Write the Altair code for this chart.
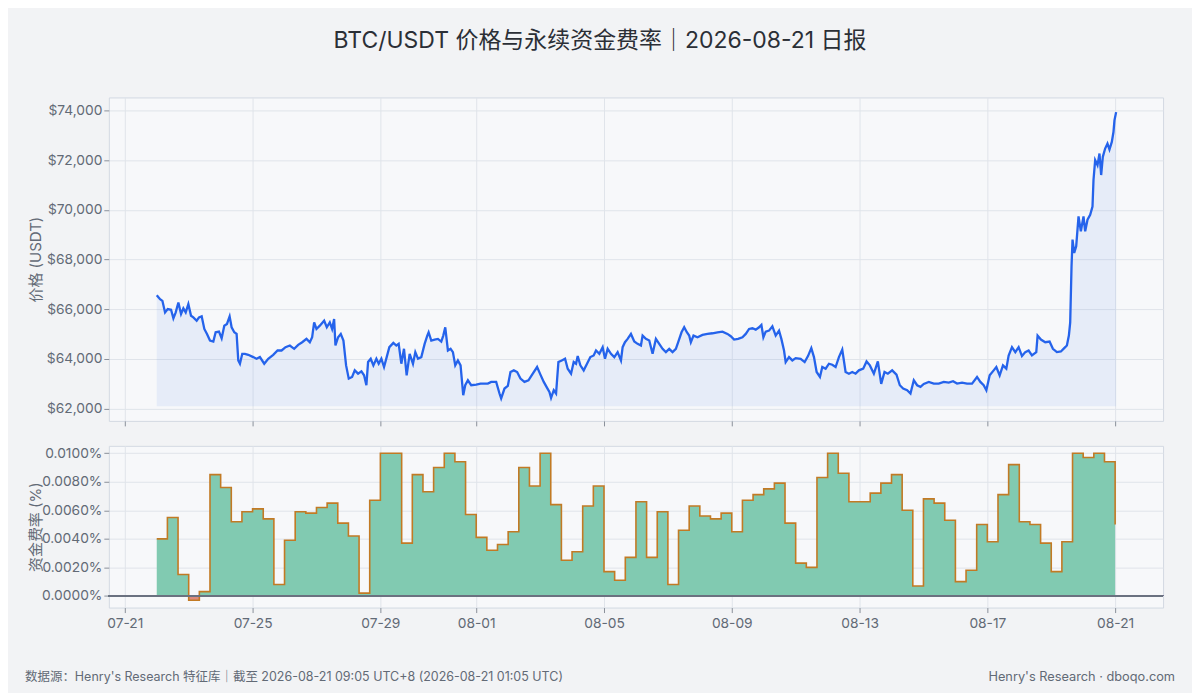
import pandas as pd
import altair as alt

# ---- values ----
start_utc = "2026-07-22T00:00:00Z"

# hours after start_utc, and BTC/USDT price at that time
price_hours = [
    0, 2.5, 4.25, 6.25, 8.25, 10.75, 12.5, 14.25, 16.25, 18.25, 20, 21.75, 23.75, 25.75,
    27.5, 30, 31.75, 33.75, 35.75, 37.75, 40, 42.5, 44.25, 46.75, 48.75, 50.75, 52.75,
    54.75, 56.25, 58.25, 60, 61.25, 62.5, 64.25, 66.25, 68.75, 72.5, 75, 77.5, 80.75,
    83.75, 87.5, 90.75, 93.75, 96.75, 100, 103.25, 106.25, 109.25, 112.5, 115, 116.75,
    118.25, 120, 122.5, 125.75, 127.75, 130, 131.75, 133.25, 134.25, 136.25, 138.25,
    140.25, 142.25, 144.25, 146.75, 148.75, 151.25, 153.75, 155.75, 157.5, 158.75,
    160.75, 162.75, 165, 166.75, 168.75, 170.75, 172.75, 174.75, 177.75, 180, 181.75,
    183.75, 185.75, 187.75, 190, 192.5, 194.25, 196.25, 198.75, 201.25, 203.25, 204.25,
    206.25, 208.75, 211.25, 213.75, 215.25, 216.75, 218.75, 220.75, 222.5, 224.25,
    226.25, 228.25, 230.25, 231.75, 233.75, 236.25, 240, 243.25,
    245, 248.75, 251.25, 255, 257.5, 258.75, 261.25, 263.75, 265.75, 268.25, 270.75,
    273.25, 276.25, 279.25, 282.5, 285.75, 288.25, 290.75, 293.25, 295, 296.25, 298.25,
    300, 301.75, 304.25, 306.75, 308.75, 311.25, 313.25, 315, 316.25, 318.25, 320.75,
    323.25, 325.75, 328.25, 330, 332.5, 335, 336.75, 338.75, 341.25, 343.75, 346.25,
    348.75, 350, 351.75, 353.75, 356.25, 358.75, 361.25, 363.75, 365, 367.5, 370,
    372.5, 375, 377.5, 380, 382.5, 385, 387.5, 390, 391.75, 394.25, 396.25, 398.25,
    400, 401.25, 403.25, 406.25, 410, 413.75, 417.5, 421.25, 425, 428.75, 431.25,
    433.75, 436.75, 440, 442.5, 445, 447.5, 450, 452.5, 454.25, 455.75, 457.5, 460,
    462.5, 465, 467.5, 469.25, 471.25, 472.5, 475, 477.5, 480,
    483.75, 486.75, 489.25, 491.75, 493.75, 495.75, 498.25, 500, 502.5, 505, 507.5,
    510, 512.5, 515, 517.5, 520, 522.5, 525, 527.5, 530.75, 533.25, 535.75, 538.75,
    541.75, 544.25, 546.75, 549.25, 552.5, 555.75, 558.25, 560.75, 563.75, 566.25,
    568.75, 571.25, 573.75, 576.25, 580, 583.75, 587.5, 591.25, 595, 598.25, 601.25,
    605, 608.75, 612.5, 616.25, 618.75, 621.25, 623.25, 625.75, 628.75, 630.75,
    633.25, 635.75, 638.25, 640, 642.5, 645, 647.5, 650, 652.5, 655, 657.5, 660.75,
    661.75, 664.25, 667.5, 670.75, 673.25, 676.25, 679.25, 681.75, 683.75, 685.25,
    686.25, 687.25, 688, 689.25, 690.75, 692.5, 694.25, 696.25, 697.5, 699.25, 701.25,
    703, 703.75, 705, 706.75, 708.25, 709.5, 710.75, 712.5, 714.25, 715.75, 717.5,
    718.75, 719.5, 720.75,
]
price_usdt = [
    66560, 66400, 66333, 65867, 66000, 65973, 65627, 65867, 66267, 65800, 66027, 65867,
    66200, 65733, 65667, 65533, 65667, 65707, 65200, 65000, 64733, 64693, 65067, 65093,
    64827, 65333, 65400, 65707, 65267, 65067, 65000, 63933, 63800, 64200, 64200, 64160,
    64067, 64000, 64067, 63800, 64000, 64160, 64333, 64333, 64467, 64533, 64400, 64560,
    64667, 64800, 64667, 64867, 65467, 65200, 65333, 65533, 65267, 65467, 65200, 65600,
    64533, 64867, 65000, 64733, 63733, 63200, 63267, 63533, 63400, 63493, 63333, 62933,
    63867, 64000, 63733, 64000, 63800, 64000, 63667, 64067, 64467, 64640, 64533, 64600,
    63800, 64400, 63333, 64200, 63800, 64267, 64000, 64067, 64600, 64933, 65067, 64733,
    64773, 64800, 64693, 64933, 65267, 64333, 64400, 64267, 63733, 63933, 63733, 62533,
    62933, 63133, 62933, 62960, 63000,
    63000, 63000, 63067, 63067, 62600, 62400, 62800, 62907, 63467, 63533, 63467, 63200,
    63067, 63133, 63400, 63667, 63360, 63067, 62827, 62667, 62427, 62733, 62600, 63867,
    63933, 64000, 63600, 63400, 63867, 63800, 64107, 63733, 63533, 63800, 64067, 64133,
    64333, 64200, 64467, 64000, 64400, 64200, 64067, 64267, 63933, 64467, 64667, 64800,
    65000, 64693, 64600, 64533, 64933, 64800, 64733, 64200, 64800, 64600, 64400, 64267,
    64400, 64267, 64400, 64667, 65067, 65267, 65067, 64933, 64667, 64933, 64867, 64960,
    65000, 65027, 65067, 65093, 65000, 64907, 64773, 64800, 64867, 65000, 65200, 65227,
    65173, 65267, 65360, 64867, 65093, 65133, 65307, 64933, 65133, 64800, 64333, 63867,
    64067, 63933, 64027,
    64000, 63867, 64107, 64427, 64067, 63467, 63267, 63667, 63600, 63800, 63760, 63667,
    64067, 64373, 63467, 63400, 63467, 63400, 63533, 63600, 63893, 63733, 63400, 63893,
    62987, 63467, 63400, 63533, 63360, 62933, 62800, 62733, 62600, 63133, 62933, 62867,
    62987, 63067, 63000, 63000, 63067, 63040, 63093, 63000, 63040, 63000, 63000, 63267,
    63067, 62933, 62733, 63333, 63533, 63667, 63333, 63733, 63600, 64133, 64467, 64267,
    64467, 64107, 64267, 64333, 64133, 64267, 64933, 64773, 64667, 64693, 64400, 64267,
    64293, 64427, 64533, 64933, 65467, 67733, 68800, 68267, 68533, 69733, 69133, 69733,
    69133, 69600, 69800, 70133, 71200, 72000, 71800, 72267, 71400, 72133, 72467, 72667,
    72427, 72733, 73133, 73600, 73933,
]
price_floor = 62090

# perpetual funding rate (%), one value every 8 hours from start_utc
funding_rate_pct = [
    0.0040, 0.0055, 0.0015, -0.0003, 0.0003, 0.0085, 0.0076, 0.0052, 0.0059, 0.0061,
    0.0054, 0.0008, 0.0039, 0.0059, 0.0058, 0.0062, 0.0065, 0.0051, 0.0042, 0.0002,
    0.0067, 0.0100, 0.0100, 0.0037, 0.0085, 0.0073, 0.0090, 0.0100, 0.0094, 0.0057,
    0.0041, 0.0032, 0.0036, 0.0045, 0.0090, 0.0077, 0.0100, 0.0064, 0.0025, 0.0031,
    0.0063, 0.0077, 0.0017, 0.0011, 0.0027, 0.0066, 0.0027, 0.0059, 0.0008, 0.0046,
    0.0063, 0.0056, 0.0054, 0.0058, 0.0045, 0.0067, 0.0071, 0.0075, 0.0079, 0.0051,
    0.0023, 0.0020, 0.0083, 0.0100, 0.0086, 0.0066, 0.0066, 0.0072, 0.0079, 0.0085,
    0.0060, 0.0007, 0.0068, 0.0065, 0.0053, 0.0010, 0.0018, 0.0050, 0.0038, 0.0071,
    0.0092, 0.0052, 0.0050, 0.0037, 0.0017, 0.0038, 0.0100, 0.0097, 0.0100, 0.0094,
    0.0050,
]

x_tick_labels = ["07-21", "07-25", "07-29", "08-01", "08-05", "08-09", "08-13", "08-17", "08-21"]
price_ticks = [62000, 64000, 66000, 68000, 70000, 72000, 74000]
funding_ticks = [0.0, 0.002, 0.004, 0.006, 0.008, 0.010]

title_text = "BTC/USDT 价格与永续资金费率｜2026-08-21 日报"
footer_left = "数据源：Henry's Research 特征库｜截至 2026-08-21 09:05 UTC+8 (2026-08-21 01:05 UTC)"
footer_right = "Henry's Research · dboqo.com"

# ---- frames ----
t0 = pd.Timestamp(start_utc)
fmt = "%Y-%m-%dT%H:%M:%SZ"

df_price = pd.DataFrame({
    "t": [(t0 + pd.Timedelta(hours=h)).strftime(fmt) for h in price_hours],
    "price": price_usdt,
})
df_price["floor"] = price_floor

df_fund = pd.DataFrame({
    "t": [(t0 + pd.Timedelta(hours=8 * i)).strftime(fmt) for i in range(len(funding_rate_pct))],
    "rate": funding_rate_pct,
})
df_fund["pos"] = df_fund["rate"].clip(lower=0)
df_fund["neg"] = df_fund["rate"].clip(upper=0)
df_fund["zero"] = 0.0


def ms(ts):
    return int(pd.Timestamp(ts).value // 10**6)


x_ticks = [ms(f"2026-{lab}T00:00:00Z") for lab in x_tick_labels]
# 5% margin on each side of the data span, as in the reference
span = pd.Timestamp(df_fund["t"].iloc[-1]) - t0
pad = span * 0.05
x_domain = [ms(t0 - pad), ms(t0 + span + pad)]

lo, hi = min(price_floor, min(price_usdt)), max(price_usdt)
price_domain = [lo - 0.05 * (hi - lo), hi + 0.05 * (hi - lo)]
flo, fhi = min(funding_rate_pct), max(funding_rate_pct)
fund_domain = [flo - 0.05 * (fhi - flo), fhi + 0.05 * (fhi - flo)]

FONT = "Inter, 'Noto Sans CJK SC', sans-serif"
GRAY = "#626a76"
W = 1056
H_TOP = 324
H_BOT = 162

x_scale = alt.Scale(type="utc", domain=x_domain)

# ---- price panel ----
x_top = alt.X("t:T", scale=x_scale, title=None,
              axis=alt.Axis(values=x_ticks, labels=False, ticks=True))
y_price = alt.Y("price:Q", scale=alt.Scale(domain=price_domain, nice=False, zero=False),
                axis=alt.Axis(values=price_ticks, format="$,.0f", title="价格 (USDT)",
                              titleX=-73, titleY=H_TOP / 2, labelOverlap=False))

price_area = alt.Chart(df_price).mark_area(color="#2563eb", opacity=0.08).encode(
    x=x_top, y=y_price, y2="floor:Q"
)
price_line = alt.Chart(df_price).mark_line(color="#2563eb", strokeWidth=2.3).encode(
    x=x_top, y=y_price
)
top = (price_area + price_line).properties(width=W, height=H_TOP)

# ---- funding panel ----
x_bot = alt.X("t:T", scale=x_scale, title=None,
              axis=alt.Axis(values=x_ticks, format="%m-%d", labelPadding=4))
f_scale = alt.Scale(domain=fund_domain, nice=False, zero=False)
f_axis = alt.Axis(values=funding_ticks, labelExpr="format(datum.value, '.4f') + '%'",
                  labelOverlap=False, tickCount=6,
                  title="资金费率 (%)", titleX=-73, titleY=H_BOT / 2)

pos_area = alt.Chart(df_fund).mark_area(interpolate="step-after", color="#81cab1").encode(
    x=x_bot, y=alt.Y("pos:Q", scale=f_scale, axis=f_axis), y2="zero:Q"
)
neg_area = alt.Chart(df_fund).mark_area(interpolate="step-after", color="#de8a7c").encode(
    x=x_bot, y=alt.Y("neg:Q", scale=f_scale, axis=f_axis), y2="zero:Q"
)
step_line = alt.Chart(df_fund).mark_line(
    interpolate="step-after", color="#c27a24", strokeWidth=1.6
).encode(x=x_bot, y=alt.Y("rate:Q", scale=f_scale, axis=f_axis))
zero_rule = alt.Chart(df_fund).mark_rule(color="#6b7280", strokeWidth=1.2).encode(
    y=alt.datum(0)
)

foot_l = alt.Chart(pd.DataFrame({"s": [footer_left]})).mark_text(
    align="left", baseline="middle", font=FONT, fontSize=12.5, color=GRAY
).encode(x=alt.value(-84), y=alt.value(232), text="s:N")
foot_r = alt.Chart(pd.DataFrame({"s": [footer_right]})).mark_text(
    align="right", baseline="middle", font=FONT, fontSize=12.8, color=GRAY
).encode(x=alt.value(W + 12), y=alt.value(232), text="s:N")

bottom = (pos_area + neg_area + step_line + zero_rule + foot_l + foot_r).properties(
    width=W, height=H_BOT
)

chart = (
    alt.vconcat(top, bottom, spacing=18)
    .properties(
        title=alt.TitleParams(title_text, font=FONT, fontSize=23, fontWeight="normal",
                              color="#2b2f36", anchor="middle", offset=44),
        background="#f2f3f5",
        padding={"left": 16, "top": 21, "right": 16, "bottom": 7},
    )
    .configure_axis(
        labelFont=FONT, labelFontSize=13.8, labelColor=GRAY,
        titleFont=FONT, titleFontSize=15, titleFontWeight="normal", titleColor=GRAY,
        titleAngle=270, titleAlign="center", titleBaseline="middle",
        gridColor="#e0e4ea", tickColor="#8a909a", tickSize=5, domain=False,
    )
    .configure_view(fill="#f7f8fa", stroke="#d3d9e2", strokeWidth=1)
)

chart.save("out.html", embed_options={"renderer": "svg", "actions": False})
